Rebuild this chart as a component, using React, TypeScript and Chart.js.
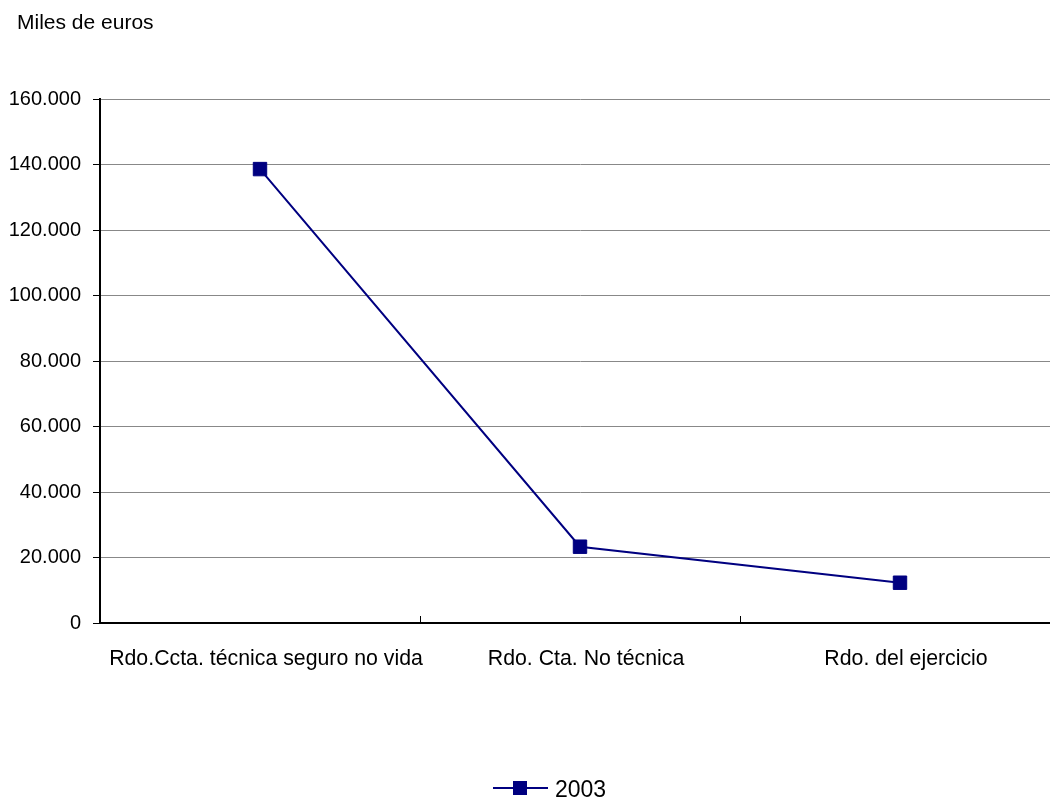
import React, { useEffect, useRef } from "react";
import { Chart, registerables } from "chart.js";

Chart.register(...registerables);

const categories = [
  "Rdo.Ccta. técnica seguro no vida",
  "Rdo. Cta. No técnica",
  "Rdo. del ejercicio",
];
const seriesLabel = "2003";
const values2003 = [138600, 23300, 12300];
const yTickValues = [0, 20000, 40000, 60000, 80000, 100000, 120000, 140000, 160000];
const unitTitle = "Miles de euros";

const NAVY = "#000080";
const FONT = "'Liberation Sans', Arial, sans-serif";

const fmt = (v: number) => String(v).replace(/\B(?=(\d{3})+(?!\d))/g, ".");

const decorPlugin = {
  id: "decor",
  afterDraw(chart: any) {
    const ctx = chart.ctx;
    const x = chart.scales.x;
    const area = chart.chartArea;
    ctx.save();
    // inner ticks between categories
    ctx.strokeStyle = "#000";
    ctx.lineWidth = 1;
    for (let i = 1; i < categories.length; i++) {
      const px = Math.round((x.getPixelForTick(i - 1) + x.getPixelForTick(i)) / 2) + 0.5;
      ctx.beginPath();
      ctx.moveTo(px, area.bottom - 7);
      ctx.lineTo(px, area.bottom);
      ctx.stroke();
    }
    // title
    ctx.fillStyle = "#000";
    ctx.font = `21px ${FONT}`;
    ctx.textBaseline = "alphabetic";
    ctx.textAlign = "left";
    ctx.fillText(unitTitle, 17, 29);
    // legend
    const ly = 788;
    ctx.strokeStyle = NAVY;
    ctx.lineWidth = 2;
    ctx.beginPath();
    ctx.moveTo(493, ly);
    ctx.lineTo(548, ly);
    ctx.stroke();
    ctx.fillStyle = NAVY;
    ctx.fillRect(513, ly - 7, 14, 14);
    ctx.fillStyle = "#000";
    ctx.font = `23px ${FONT}`;
    ctx.fillText(seriesLabel, 555, 797);
    ctx.restore();
  },
};

export default function App() {
  const ref = useRef<HTMLCanvasElement>(null);
  useEffect(() => {
    if (!ref.current) return;
    const chart = new Chart(ref.current, {
      type: "line",
      data: {
        labels: categories,
        datasets: [
          {
            label: seriesLabel,
            data: values2003,
            borderColor: NAVY,
            backgroundColor: NAVY,
            borderWidth: 2,
            pointStyle: "rect",
            pointRadius: 9.5,
            pointBorderColor: NAVY,
            pointBackgroundColor: NAVY,
            pointBorderWidth: 1,
            tension: 0,
          },
        ],
      },
      options: {
        responsive: false,
        maintainAspectRatio: false,
        animation: false,
        layout: { autoPadding: false, padding: { top: 99, left: 0, right: 0, bottom: 0 } },
        plugins: {
          legend: { display: false },
          title: { display: false },
          tooltip: { enabled: false },
        },
        scales: {
          x: {
            offset: true,
            grid: { display: false, drawTicks: false },
            border: { display: true, color: "#000", width: 2 },
            ticks: {
              color: "#000",
              font: { family: FONT, size: 21.3 },
              padding: 23,
              labelOffset: 6,
              maxRotation: 0,
              autoSkip: false,
            },
            afterFit: (s: any) => {
              s.height = 182;
            },
          },
          y: {
            min: 0,
            max: 160000,
            afterBuildTicks: (s: any) => {
              s.ticks = yTickValues.map((v) => ({ value: v }));
            },
            grid: {
              color: (c: any) => (c.tick && c.tick.value === 0 ? "#000" : "#888"),
              lineWidth: 1,
              tickLength: 7,
              tickColor: "#000",
              drawTicks: true,
            },
            border: { display: true, color: "#000", width: 2 },
            ticks: {
              color: "#000",
              font: { family: FONT, size: 20 },
              padding: 12,
              callback: (v: any) => fmt(Number(v)),
            },
            afterFit: (s: any) => {
              s.width = 100;
            },
          },
        },
      },
      plugins: [decorPlugin],
    });
    return () => chart.destroy();
  }, []);
  return (
    <div
      style={{
        position: "fixed",
        left: 0,
        top: 0,
        width: 1050,
        height: 805,
        overflow: "hidden",
        background: "#fff",
      }}
    >
      <div style={{ width: 1060, height: 805 }}>
        <canvas
          ref={ref}
          width={1060}
          height={805}
          style={{ display: "block", width: 1060, height: 805 }}
        />
      </div>
    </div>
  );
}
